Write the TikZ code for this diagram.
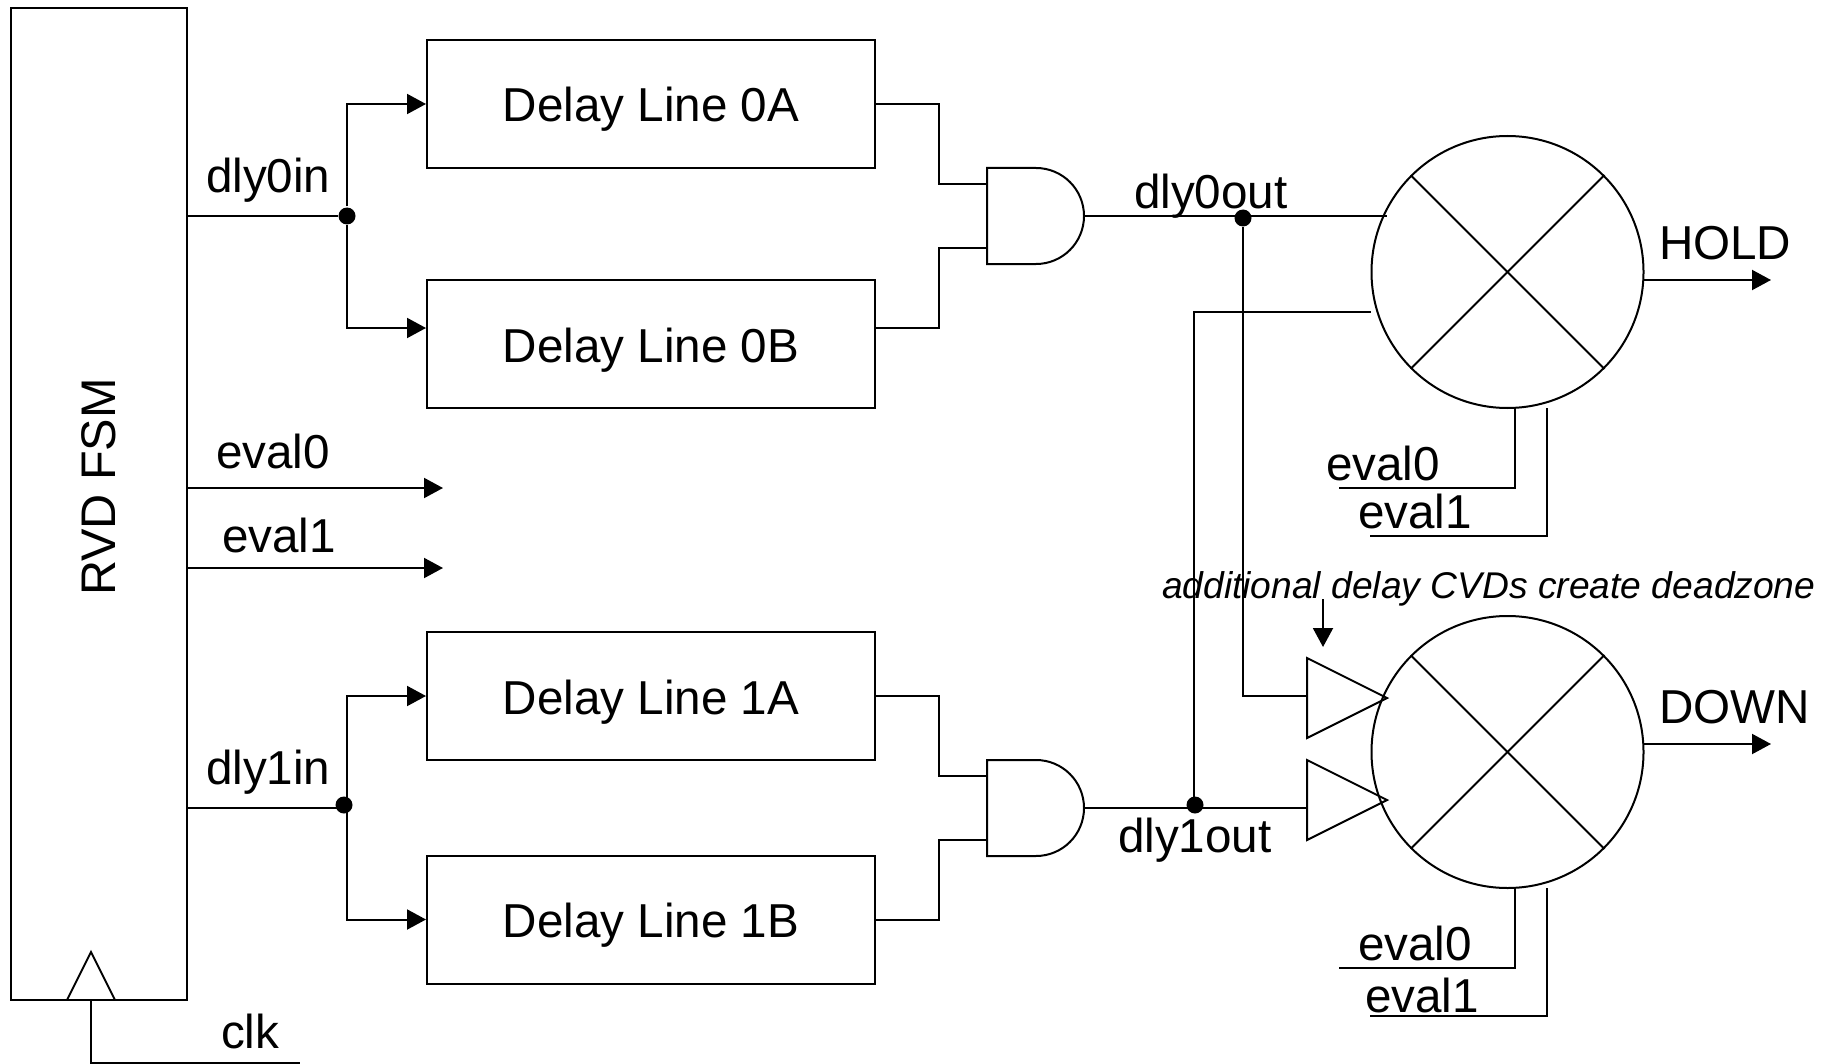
\documentclass[tikz,border=0pt]{standalone}
\usepackage{fontspec}
\setmainfont{Liberation Sans}
\usetikzlibrary{arrows.meta}
\tikzstyle{every node}=[font=\fontsize{23.8}{28}\selectfont]
\tikzstyle{every path}=[line width=1pt]
\tikzset{
  delaybox/.style={draw,minimum width=224pt,minimum height=64pt,inner sep=0pt,text height=23pt,text depth=5pt},
  fsmbox/.style={draw,minimum width=88pt,minimum height=496pt,inner sep=0pt},
  muxnode/.style={draw,circle,minimum size=136pt,inner sep=0pt},
  jdot/.style={circle,fill=black,inner sep=0pt,minimum size=8.5pt},
  lbl/.style={anchor=base west,inner sep=0pt},
  arr/.style={-{Triangle[length=9.5pt,width=10pt]}}
}
\begin{document}
\begin{tikzpicture}[x=0.5pt,y=-0.5pt]
  \useasboundingbox (0,0) rectangle (1835,1064);
  % blocks
  \node[fsmbox] (fsm) at (99,504) {};
  \node[rotate=90,font=\fontsize{24.3}{28}\selectfont] (fsmname) at (99,487) {RVD FSM};
  \node[delaybox] (d0a) at (651,104) {Delay Line 0A};
  \node[delaybox] (d0b) at (651,344) {Delay Line 0B};
  \node[delaybox] (d1a) at (651,696) {Delay Line 1A};
  \node[delaybox] (d1b) at (651,919.5) {Delay Line 1B};
  % and gates
  \foreach \n/\y in {0/216,1/808} {
    \draw (987,\y-48) -- (1036,\y-48) arc[start angle=90,end angle=-90,radius=24pt] -- (987,\y+48) -- cycle;
    \coordinate (and\n a) at (987,\y-32);
    \coordinate (and\n b) at (987,\y+32);
    \coordinate (and\n out) at (1084,\y);
  }
  % xor circles
  \foreach \n/\y in {hold/272,down/752} {
    \node[muxnode] (\n) at (1507.5,\y) {};
    \draw (\n.45) -- (\n.225);
    \draw (\n.135) -- (\n.315);
    \coordinate (\n e0) at (1515,\y+136);
    \coordinate (\n e1) at (1547,\y+136);
  }
  % buffers
  \foreach \y in {698,800} {
    \draw (1307,\y-40) -- (1387,\y) -- (1307,\y+40) -- cycle;
  }
  \coordinate (buf0) at (1307,696);
  \coordinate (buf1) at (1307,808);
  % dots
  \node[jdot] (j0in) at (347,216) {};
  \node[jdot] (j1in) at (344,805) {};
  \node[jdot] (j0out) at (1243,218) {};
  \node[jdot] (j1out) at (1195,805) {};
  % fsm to delay lines
  \draw (fsm.east |- j0in) -- (j0in);
  \draw[arr] (j0in) |- (d0a.west);
  \draw[arr] (j0in) |- ([yshift=8pt]d0b.west);
  \draw (187,808) -- (347,808);
  \draw[arr] (347,808) |- (d1a.west);
  \draw[arr] (347,808) |- (d1b.west);
  % delay lines to gates
  \draw (d0a.east) -- ++(63,0) |- (and0a);
  \draw ([yshift=8pt]d0b.east) -- ++(63,0) |- (and0b);
  \draw (d1a.east) -- ++(63,0) |- (and1a);
  \draw (d1b.east) -- ++(63,0) |- (and1b);
  % gates to circles
  \coordinate (hold0) at (1387,216);
  \coordinate (hold1) at (1371,312);
  \draw (and0out) -- (hold0);
  \draw (and1out) -- (buf1);
  \draw (j0out) |- (buf0);
  \draw ([xshift=-0.5pt]j1out.center) |- (hold1);
  % eval stubs
  \coordinate (ev0end) at (443,488);
  \coordinate (ev1end) at (443,568);
  \draw[arr] (fsm.east |- ev0end) -- (ev0end);
  \draw[arr] (fsm.east |- ev1end) -- (ev1end);
  \draw (holde0) |- (1339,488);
  \draw (holde1) |- (1370,536);
  \draw (downe0) |- (1339,968);
  \draw (downe1) |- (1370,1016);
  % outputs
  \draw[arr] (1644,280) -- (1771,280);
  \draw[arr] (1644,744) -- (1771,744);
  % clock
  \draw (67,1000) -- (91,952) -- (115,1000);
  \draw (91,1000) |- (300,1063);
  % labels
  \node[lbl] (ldly0in) at (205,193) {dly0in};
  \node[lbl] (ldly1in) at (205,784) {dly1in};
  \node[lbl] (leval0) at (215,468) {eval0};
  \node[lbl] (leval1) at (221,552) {eval1};
  \node[lbl] (lclk) at (220,1048) {clk};
  \node[lbl] (ldly0out) at (1133,209) {dly0out};
  \node[lbl] (ldly1out) at (1117,852) {dly1out};
  \node[lbl] (lhold) at (1658,259) {HOLD};
  \node[lbl] (ldown) at (1658,723) {DOWN};
  \node[lbl] (lh0) at (1325,480) {eval0};
  \node[lbl] (lh1) at (1357,528) {eval1};
  \node[lbl] (ld0) at (1357,960) {eval0};
  \node[lbl] (ld1) at (1364,1012) {eval1};
  \node[lbl,font=\fontsize{18.6}{22}\selectfont\itshape] (lnote) at (1161,598) {additional delay CVDs create deadzone};
  \coordinate (notetip) at (1323,647);
  \draw[arr] (1323,599) -- (notetip);
\end{tikzpicture}
\end{document}
